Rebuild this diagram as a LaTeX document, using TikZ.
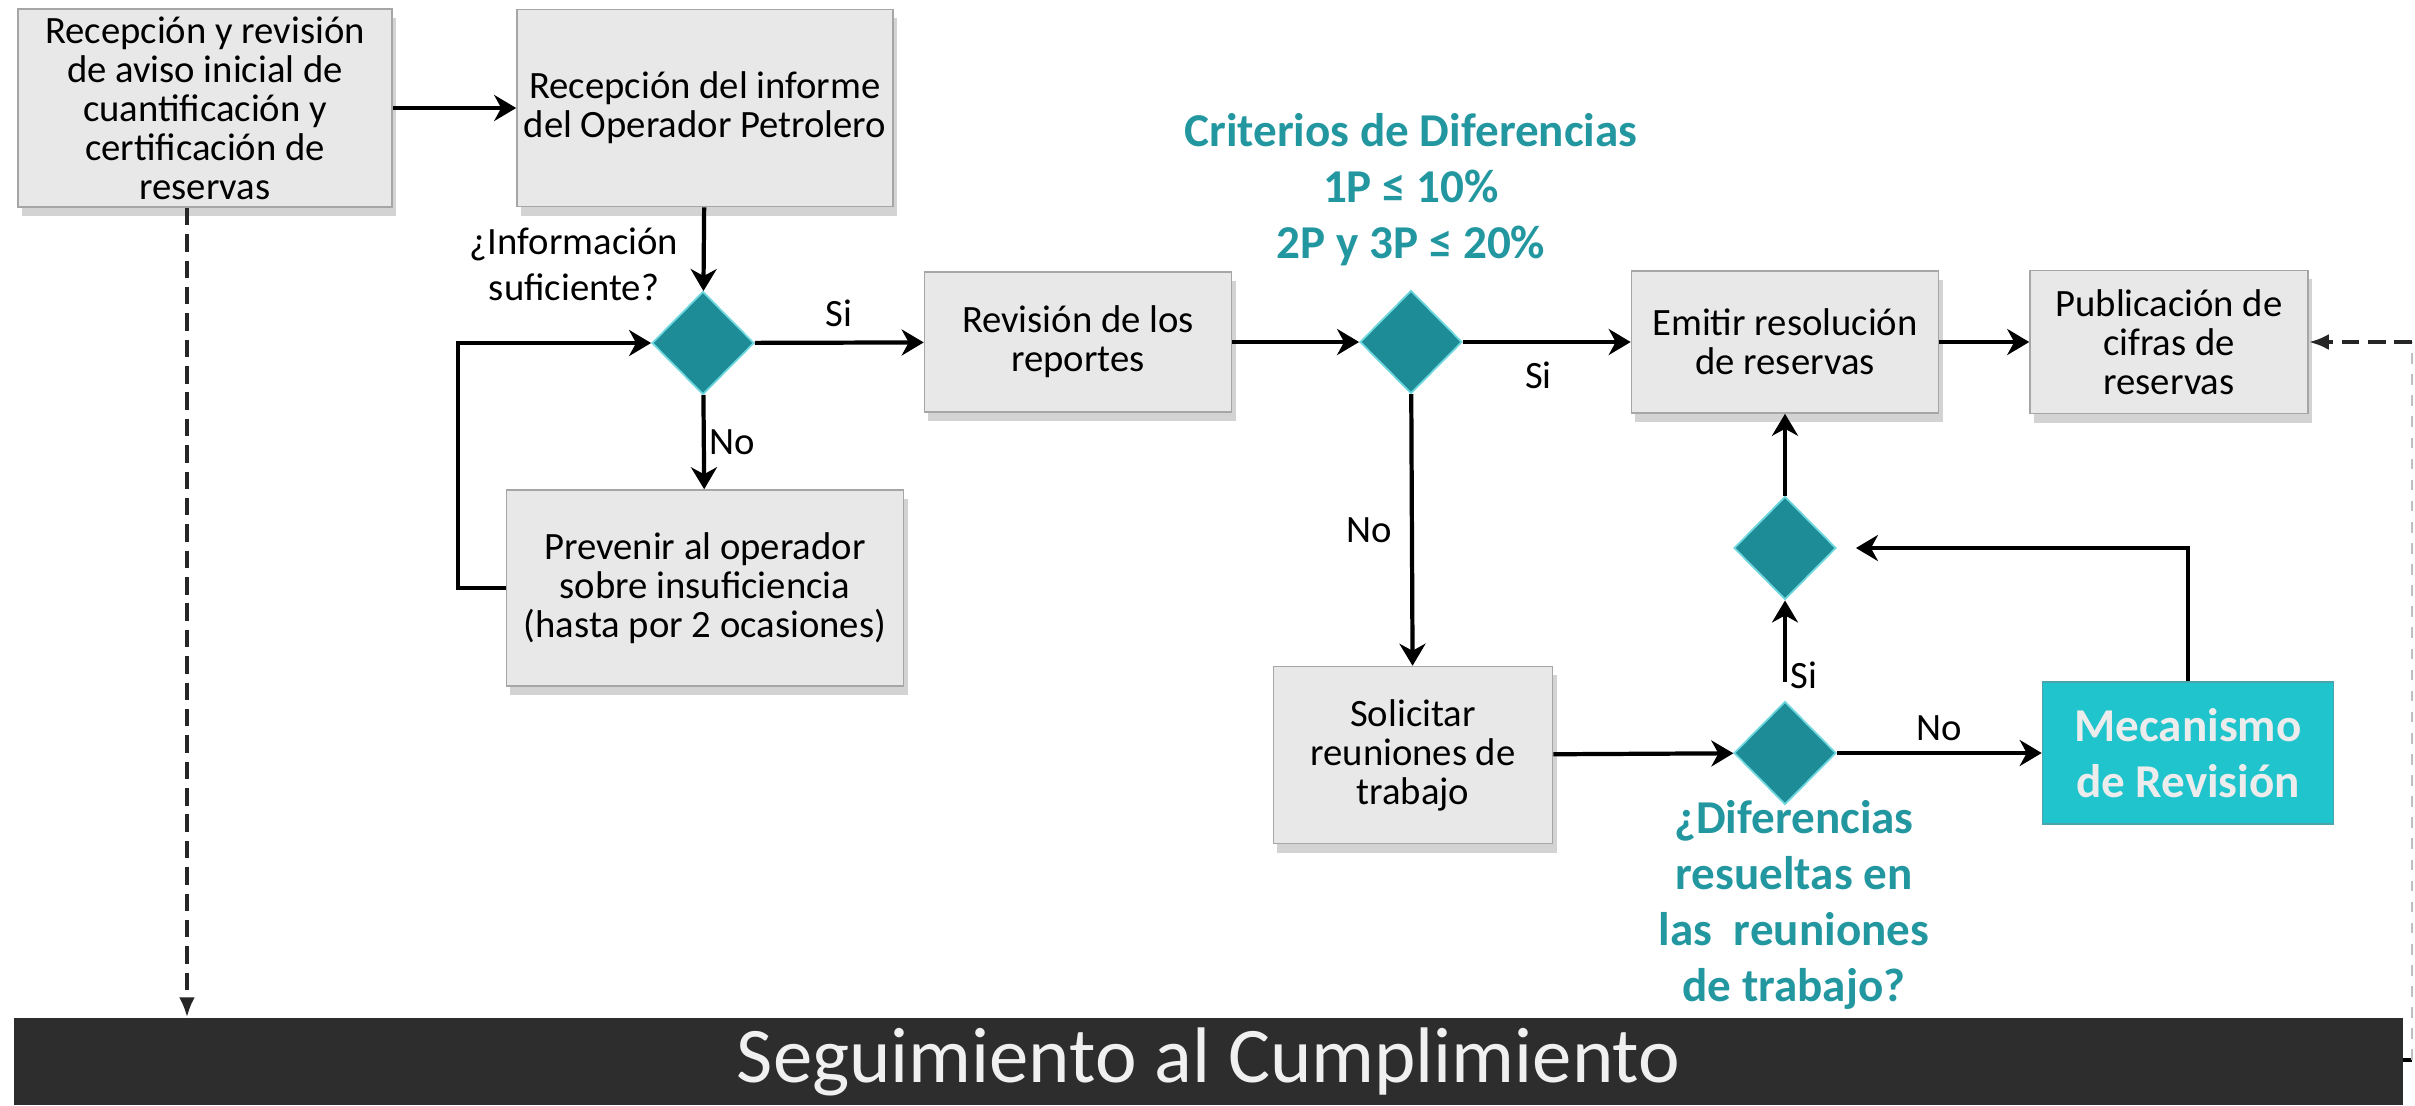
\documentclass[tikz,border=0pt]{standalone}
\usepackage{fontspec}
\setmainfont{Carlito}
\usetikzlibrary{shapes.geometric, arrows.meta, shadows}
\definecolor{petroleo}{RGB}{30,140,150}
\definecolor{turquesa}{RGB}{31,196,204}
\definecolor{tituloazul}{RGB}{35,151,160}
\definecolor{cajagris}{RGB}{232,232,232}
\definecolor{barra}{RGB}{45,45,45}

\begin{document}
\begin{tikzpicture}[x=0.01cm, y=-0.01cm,
    caja/.style={draw=gray!70, fill=cajagris, align=center, inner sep=1pt,
        font=\fontsize{11}{11.1}\selectfont,
        drop shadow={shadow xshift=0.4mm, shadow yshift=-0.9mm, opacity=0.35}},
    rombo/.style={diamond, draw={rgb,255:red,110;green,215;blue,222}, line width=0.5pt,
        fill=petroleo, minimum width=1.02cm, minimum height=1.03cm, inner sep=0pt},
    flecha/.style={line width=1.2pt, -{Stealth[length=0.22cm, width=0.26cm, inset=0.07cm]}},
    punteada/.style={line width=1pt, draw=black!85, dash pattern=on 5pt off 2.5pt,
        -{Latex[length=0.2cm, width=0.16cm]}},
    etiqueta/.style={font=\fontsize{11}{13}\selectfont, align=center, inner sep=1pt},
    titulo/.style={text=tituloazul, font=\bfseries\fontsize{13.4}{15.9}\selectfont, align=center}]
    \useasboundingbox (0,0) rectangle (2415,1105);

    % cajas del proceso
    \node[caja, minimum width=3.74cm, minimum height=1.98cm] (aviso) at (205,108)
        {Recepción y revisión\\de aviso inicial de\\cuantificación y\\certificación de\\reservas};
    \node[caja, minimum width=3.76cm, minimum height=1.97cm] (informe) at (705,108)
        {Recepción del informe\\del Operador Petrolero};
    \node[caja, minimum width=3.97cm, minimum height=1.96cm] (prevenir) at (705,588)
        {Prevenir al operador\\sobre insuficiencia\\(hasta por 2 ocasiones)};
    \node[caja, minimum width=3.07cm, minimum height=1.40cm] (revision) at (1078,342)
        {Revisión de los\\reportes};
    \node[caja, minimum width=3.07cm, minimum height=1.42cm] (emitir) at (1785,342)
        {Emitir resolución\\de reservas};
    \node[caja, minimum width=2.78cm, minimum height=1.43cm] (publica) at (2169,342)
        {Publicación de\\cifras de\\reservas};
    \node[caja, minimum width=2.79cm, minimum height=1.77cm] (solicitar) at (1413,755)
        {Solicitar\\reuniones de\\trabajo};
    \node[fill=turquesa, draw=petroleo!80, minimum width=2.91cm, minimum height=1.42cm,
        align=center, text=gray!15, font=\bfseries\fontsize{13.4}{15.9}\selectfont]
        (meca) at (2188,753) {Mecanismo\\de Revisión};

    % decisiones
    \node[rombo] (d1) at (703,343) {};
    \node[rombo] (d2) at (1411,342) {};
    \node[rombo] (d3) at (1785,753) {};
    \node[rombo] (d4) at (1785,548) {};

    \node[etiqueta] (info) at (574,264) {¿Información\\suficiente?};
    \node[titulo] (criterios) at (1411,190) {Criterios de Diferencias\\1P ≤ 10\%\\2P y 3P ≤ 20\%};
    \node[titulo] (resueltas) at (1794,905) {¿Diferencias\\resueltas en\\las\ \ reuniones\\de trabajo?};

    \node[fill=barra, minimum width=23.87cm, minimum height=0.87cm, inner sep=0pt,
        text=gray!12, font=\fontsize{22.4}{26}\selectfont] (seguim) at (1208.5,1061.5)
        {Seguimiento al Cumplimiento};

    % conectores
    \draw[flecha] (aviso) -- (informe);
    \draw[flecha] (informe) -- (d1);
    \draw[flecha] (d1) -- node[etiqueta, above=3pt] {Si} (revision);
    \draw[flecha] (d1) -- node[etiqueta, right] {No} (prevenir);
    \draw[flecha] (prevenir.west) -- ++(-48,0) |- (d1.west);
    \draw[flecha] (revision) -- (d2);
    \draw[flecha] (d2) -- node[etiqueta, below=4pt, pos=0.45] {Si} (emitir);
    \draw[flecha] (emitir) -- (publica);
    \draw[flecha] (d2) -- node[etiqueta, left=4pt] {No} (solicitar);
    \draw[flecha] (solicitar) -- (d3);
    \draw[flecha] (d3) -- node[etiqueta, above=2pt] {No} (meca);
    \draw[flecha, shorten <=0.19cm] (d3) -- node[etiqueta, right, pos=0.25] {Si} (d4);
    \draw[flecha] (d4) -- (emitir);
    \draw[flecha, shorten >=0.19cm] (meca.north) |- (d4.east);

    \coordinate (bajada) at ([xshift=-0.18cm]aviso.south);
    \draw[punteada] (bajada) -- (bajada |- seguim.north);

    \coordinate (esq) at (2412,1060);
    \draw[line width=1pt] (seguim.east |- esq) -- (esq);
    \draw[gray!50, thin, dashed] (esq) -- (esq |- publica.east);
    \draw[punteada, line width=1.2pt] (esq |- publica.east) -- (publica.east);
\end{tikzpicture}
\end{document}
